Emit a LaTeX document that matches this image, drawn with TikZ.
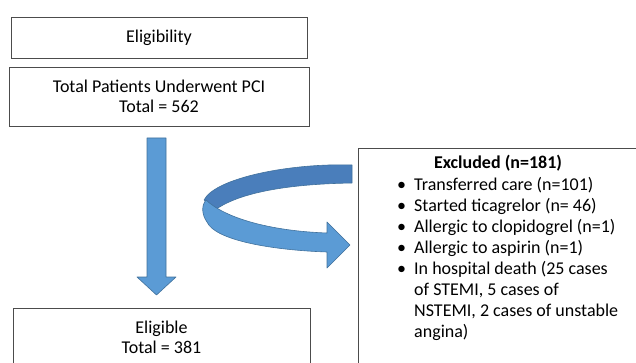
\documentclass[tikz,border=0pt]{standalone}
\usepackage{fontspec}
\setmainfont{Carlito}
\usetikzlibrary{positioning}
\definecolor{arrowblue}{HTML}{5B9BD5}
\definecolor{arrowdark}{HTML}{4A7EBB}
\definecolor{arrowline}{HTML}{41719C}
\tikzset{
  box/.style={draw=black!70, line width=0.8pt, align=center, inner sep=0pt},
  blockarrow/.style={fill=arrowblue, draw=arrowline, line width=0.6pt, line join=round}
}
\newcommand\exclbullet{\makebox[17pt][l]{\textbullet}}
\newcommand\exclindent{\hspace*{17pt}}

\begin{document}
\begin{tikzpicture}[x=1pt, y=-1pt, font=\fontsize{18}{20.5}\selectfont]
  \useasboundingbox (0,0) rectangle (636,363);
  \clip (0,0) rectangle (636,363);

  % Riquadri a sinistra
  \node[box, minimum width=296pt, minimum height=41pt] (eligibility) at (159,37.5) {Eligibility};
  \node[box, minimum width=300pt, minimum height=59pt] (total) at (159,96.5) {Total Patients Underwent PCI\\Total = 562};
  \node[box, minimum width=297pt, minimum height=58pt, anchor=north] (eligible) at (161.5,308) {Eligible\\Total = 381};

  % Riquadro esclusi
  \node[box, minimum width=300pt, minimum height=240pt, anchor=north west] (excluded) at (358,148) {};
  \node[font=\fontsize{18}{21}\selectfont\bfseries, anchor=base] (exclhead) at (498,169) {Excluded (n=181)};
  \node[align=left, anchor=north west, inner sep=0pt, font=\fontsize{18}{21}\selectfont] (excllist) at (397,177) {%
    \exclbullet Transferred care (n=101)\\
    \exclbullet Started ticagrelor (n= 46)\\
    \exclbullet Allergic to clopidogrel (n=1)\\
    \exclbullet Allergic to aspirin (n=1)\\
    \exclbullet In hospital death (25 cases\\
    \exclindent of STEMI, 5 cases of\\
    \exclindent NSTEMI, 2 cases of unstable\\
    \exclindent angina)};

  % Freccia verso il basso
  \draw[blockarrow] (147,138) -- (166,138) -- (166,277) -- (176,277) -- (156.5,295)
    -- (137,277) -- (147,277) -- cycle;

  % Freccia curva: parte posteriore
  \draw[blockarrow, fill=arrowdark] (352,165) .. controls (290,163) and (215,178) .. (204,200)
    -- (215,210) .. controls (240,192) and (290,184) .. (352,183) -- cycle;
  % Freccia curva: parte anteriore con punta
  \draw[blockarrow] (206,200) .. controls (225,218) and (270,231) .. (327,233)
    -- (327,222) -- (350,245) -- (327,268) -- (327,252)
    .. controls (270,250) and (215,240) .. (207,222)
    .. controls (202,215) and (201,206) .. (206,200) -- cycle;
\end{tikzpicture}
\end{document}
